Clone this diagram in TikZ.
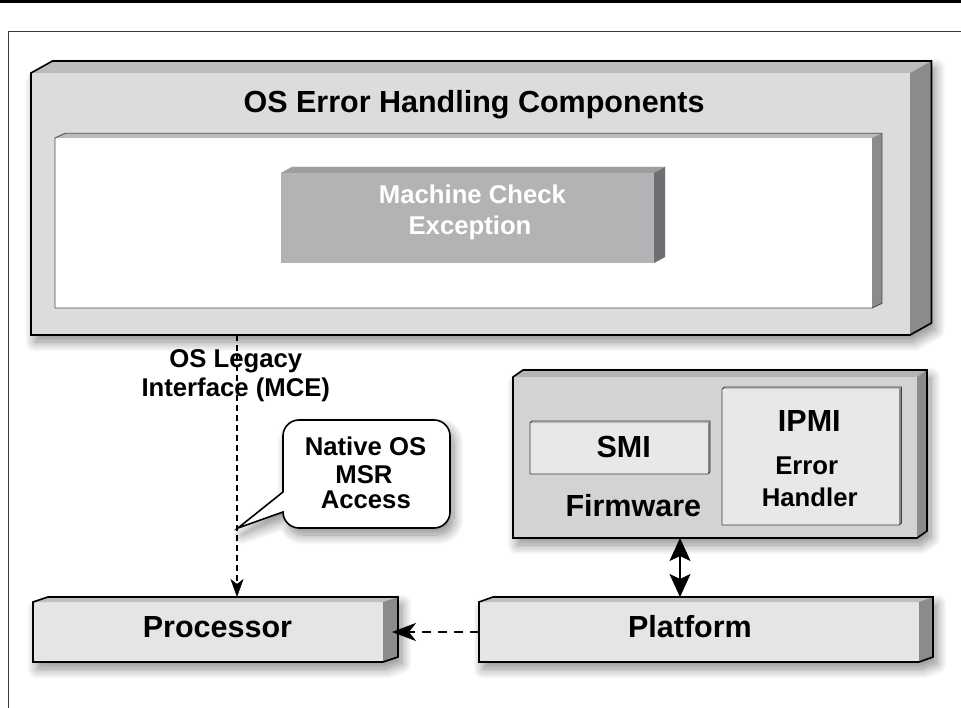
\documentclass[tikz,border=0pt]{standalone}
\usepackage{fontspec}
\setmainfont{Liberation Sans}
\usetikzlibrary{calc,arrows.meta,shadows.blur}
\definecolor{oFront}{HTML}{DCDCDC}
\definecolor{oTop}{HTML}{BCBCBC}
\definecolor{oSide}{HTML}{8B8B8B}
\definecolor{fFront}{HTML}{D3D3D3}
\definecolor{fTop}{HTML}{B4B4B4}
\definecolor{pFront}{HTML}{E5E5E5}
\definecolor{pTop}{HTML}{C0C0C0}
\definecolor{mFront}{HTML}{B1B3B5}
\definecolor{mTop}{HTML}{9C9EA0}
\definecolor{mSide}{HTML}{6E6F72}
\definecolor{iFill}{HTML}{E8E8E8}
\definecolor{frameCol}{HTML}{3A3A3A}
\newcommand\tdbox[8]{%
  \path[fill=#4,#8] (#1.south west) -- (#1.north west) -- ($(#1.north west)+(#2,-#3)$) -- ($(#1.north east)+(#2,-#3)$) -- ($(#1.south east)+(#2,-#3)$) -- (#1.south east) -- cycle;
  \fill[#5] (#1.north west) -- ($(#1.north west)+(#2,-#3)$) -- ($(#1.north east)+(#2,-#3)$) -- (#1.north east) -- cycle;
  \fill[#6] (#1.north east) -- ($(#1.north east)+(#2,-#3)$) -- ($(#1.south east)+(#2,-#3)$) -- (#1.south east) -- cycle;
  \path[#7] (#1.south west) -- (#1.north west) -- ($(#1.north west)+(#2,-#3)$) -- ($(#1.north east)+(#2,-#3)$) -- ($(#1.south east)+(#2,-#3)$) -- (#1.south east) -- cycle;
}
\tikzset{
  face/.style={inner sep=0pt, outer sep=0pt, draw=none},
  bigtxt/.style={font=\fontsize{30.5}{30.5}\selectfont\bfseries, inner sep=0pt, anchor=base},
  smalltxt/.style={font=\fontsize{25.7}{25.7}\selectfont\bfseries, inner sep=0pt, anchor=base},
  boxshadow/.style={blur shadow={shadow xshift=4pt, shadow yshift=-7pt, shadow blur radius=10pt, shadow blur steps=12, shadow opacity=45}},
  noshadow/.style={},
  thickline/.style={draw=black, line width=1.6pt, line join=miter},
  thinline/.style={draw=black!75, line width=0.9pt},
  noline/.style={},
}
\begin{document}
\begin{tikzpicture}[x=1pt,y=-1pt]
\useasboundingbox (0,0) rectangle (961,708);
% top rule and frame
\draw[line width=3pt] (0,1.8) -- (961,1.8);
\draw[frameCol, line width=1.2pt] (8.5,708) -- (8.5,31.7) -- (961,31.7);

% outer box
\node[face, minimum width=879pt, minimum height=262pt] (outer) at (470.5,204) {};
\tdbox{outer}{21.5}{12}{oFront}{oTop}{oSide}{thickline}{boxshadow}
% inner white area
\node[face, minimum width=817pt, minimum height=170pt] (inner) at (463.5,223) {};
\tdbox{inner}{10}{4.7}{white}{oTop}{oSide}{draw=black!70, line width=0.9pt}{noshadow}
% machine check box
\node[face, minimum width=373pt, minimum height=90pt] (mce) at (467.5,218) {};
\tdbox{mce}{11}{6}{mFront}{mTop}{mSide}{noline}{noshadow}

\node[bigtxt] (title) at (474,112.7) {OS Error Handling Components};
\node[smalltxt, white] (mce1) at (472.5,203.3) {Machine Check};
\node[smalltxt, white] (mce2) at (470,235) {Exception};

% firmware box
\node[face, minimum width=404pt, minimum height=161pt] (fw) at (715,457.5) {};
\tdbox{fw}{10}{7}{fFront}{fTop}{oSide}{thickline}{boxshadow}
\node[face, minimum width=178pt, minimum height=51pt] (smi) at (619,448.5) {};
\tdbox{smi}{2}{2}{iFill}{oTop}{oSide}{thinline}{noshadow}
\node[face, minimum width=177pt, minimum height=136pt] (ipmi) at (810.5,457) {};
\tdbox{ipmi}{2.5}{2}{iFill}{oTop}{oSide}{thinline}{noshadow}
\node[bigtxt] (smit) at (623.7,457) {SMI};
\node[bigtxt] (fwt) at (633.3,516.7) {Firmware};
\node[bigtxt] (ipmit) at (809.3,431.7) {IPMI};
\node[smalltxt] (err) at (806.7,474) {Error};
\node[smalltxt] (hnd) at (809.7,506) {Handler};

% processor and platform
\node[face, minimum width=350pt, minimum height=60pt] (proc) at (208,632) {};
\tdbox{proc}{15}{5}{pFront}{pTop}{oSide}{thickline}{boxshadow}
\node[face, minimum width=440pt, minimum height=60pt] (plat) at (699,632) {};
\tdbox{plat}{14}{5}{pFront}{pTop}{oSide}{thickline}{boxshadow}
\node[bigtxt] (proct) at (217.5,637) {Processor};
\node[bigtxt] (platt) at (690,637) {Platform};

% legacy interface label
\node[smalltxt] (leg1) at (235.8,367.3) {OS Legacy};
\node[smalltxt] (leg2) at (235.8,396.7) {Interface (MCE)};

% callout
\path[fill=white, draw=black, line width=1.6pt, line join=miter, boxshadow]
  (283,492) -- (238,528) -- (283,512)
  .. controls (283,520.84) and (290.16,528) .. (299,528)
  -- (434,528) .. controls (442.84,528) and (450,520.84) .. (450,512)
  -- (450,436) .. controls (450,427.16) and (442.84,420) .. (434,420)
  -- (299,420) .. controls (290.16,420) and (283,427.16) .. (283,436)
  -- cycle;
\node[smalltxt] (nat1) at (365.5,455.7) {Native OS};
\node[smalltxt] (nat2) at (364,483.3) {MSR};
\node[smalltxt] (nat3) at (365.8,508.3) {Access};

% connectors
\coordinate (legx) at (237,0);
\coordinate (dblx) at (680,0);
\draw[line width=1.3pt, dash pattern=on 6pt off 4pt, -{Stealth[length=18pt, width=13pt, inset=5pt, fill=black, line width=0.5pt]}]
  (outer.south -| legx) -- ($(proc.north -| legx)+(0,-5)$);
\draw[line width=2pt, dash pattern=on 9pt off 7pt, -{Stealth[length=24pt, width=18pt, inset=7pt, fill=black, line width=0.5pt]}]
  (plat.west) -- ($(proc.east)+(9,0)$);
\draw[line width=2.5pt, {Stealth[length=23pt, width=21pt, inset=5pt, fill=black, line width=0.5pt]}-{Stealth[length=23pt, width=21pt, inset=5pt, fill=black, line width=0.5pt]}]
  (fw.south -| dblx) -- ($(plat.north -| dblx)+(0,-5)$);
\end{tikzpicture}
\end{document}
